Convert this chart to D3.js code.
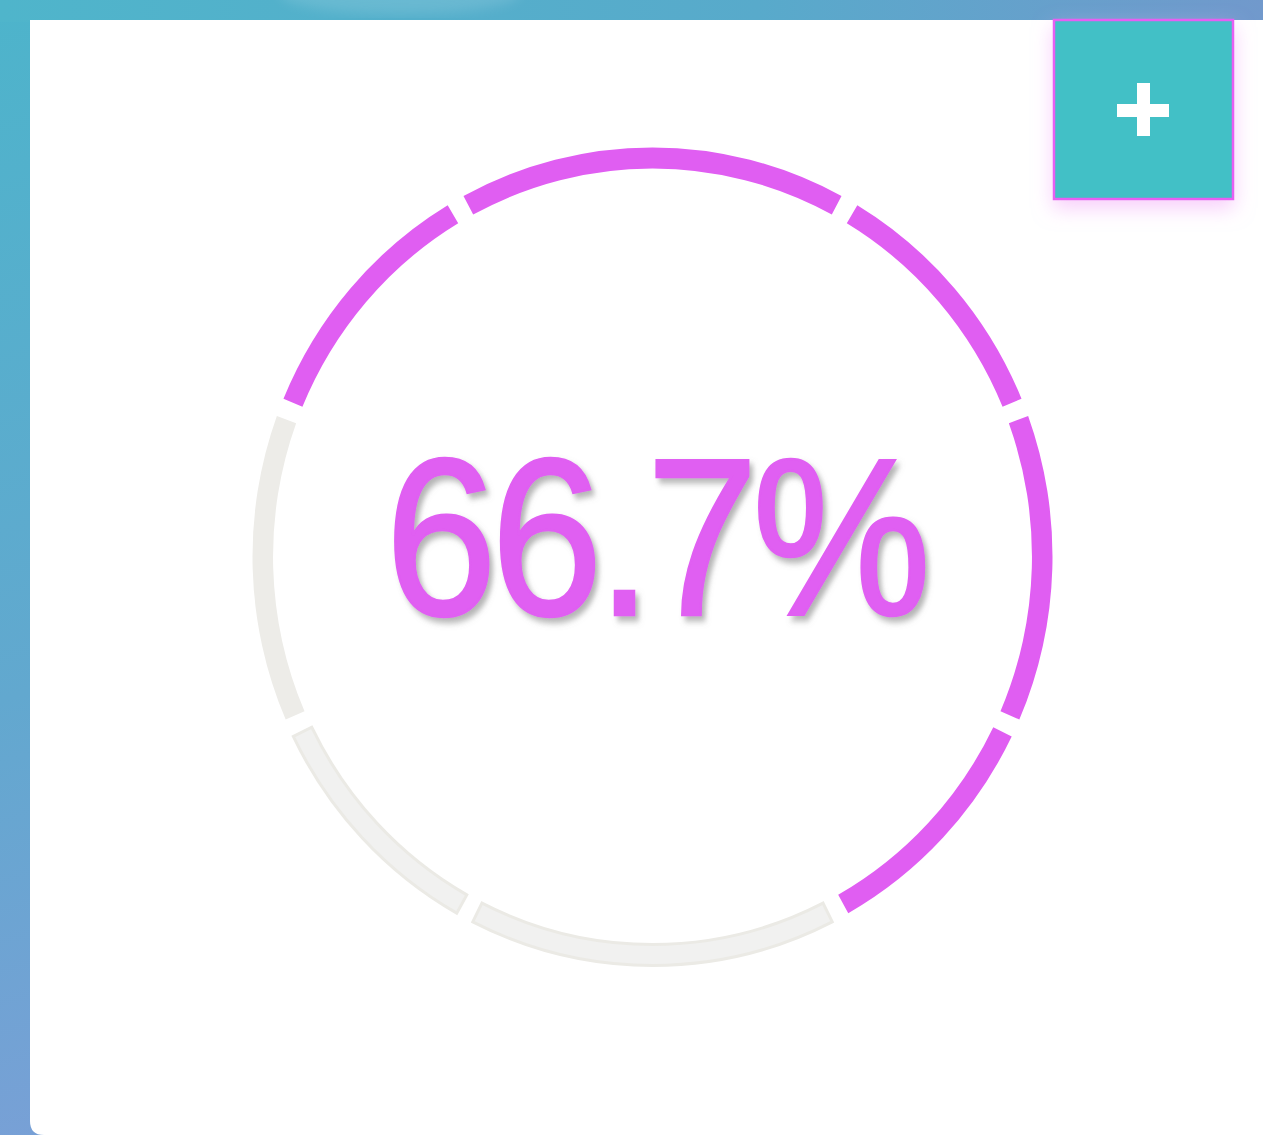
<!DOCTYPE html>
<html>
<head>
<meta charset="utf-8">
<script src="https://cdn.jsdelivr.net/npm/d3@7"></script>
<style>
  html, body { margin: 0; padding: 0; overflow: hidden; }
  svg { display: block; }
</style>
</head>
<body>
<svg id="wykres"></svg>
<script>
// dane wykresu
let wartosc = 66.7; // procent
let etykieta = "66.7%";
let granice = [-29.5, 29.5, 68.6, 114.8, 152.0, 208.0, 245.2, 291.4, 330.5]; // środki przerw w stopniach, od góry zgodnie z zegarem
let stany = ["on", "on", "on", "on", "off", "off", "track", "on"]; // stan każdego segmentu

let W = 1263, H = 1135;
let kolory = { on: "#e05ef2", off: "#f1f1f0", track: "#edece8" };

let svg = d3.select('#wykres').attr('width', W).attr('height', H);
let defs = svg.append('defs');

// tło
let tlo = defs.append('linearGradient').attr('id', 'tlo')
  .attr('x1', 0).attr('y1', 0).attr('x2', 0.35).attr('y2', 1);
tlo.append('stop').attr('offset', '0%').attr('stop-color', '#4db4cb');
tlo.append('stop').attr('offset', '55%').attr('stop-color', '#62a8cf');
tlo.append('stop').attr('offset', '100%').attr('stop-color', '#7e9ed8');

let gora = defs.append('linearGradient').attr('id', 'gora')
  .attr('x1', 0).attr('y1', 0).attr('x2', 1).attr('y2', 0);
gora.append('stop').attr('offset', '0%').attr('stop-color', '#4fb5cb');
gora.append('stop').attr('offset', '60%').attr('stop-color', '#58aacb');
gora.append('stop').attr('offset', '100%').attr('stop-color', '#7199cc');

let rozmycie = defs.append('filter').attr('id', 'rozmycie');
rozmycie.append('feGaussianBlur').attr('stdDeviation', 6);

let cien = defs.append('filter').attr('id', 'cien')
  .attr('x', '-10%').attr('y', '-10%').attr('width', '130%').attr('height', '130%');
cien.append('feDropShadow').attr('dx', 4).attr('dy', 5).attr('stdDeviation', 3)
  .attr('flood-color', '#777').attr('flood-opacity', 0.55);

let poswiata = defs.append('filter').attr('id', 'poswiata')
  .attr('x', '-30%').attr('y', '-30%').attr('width', '160%').attr('height', '170%');
poswiata.append('feDropShadow').attr('dx', 0).attr('dy', 8).attr('stdDeviation', 10)
  .attr('flood-color', '#f3a6f8').attr('flood-opacity', 0.55);

svg.append('rect').attr('width', W).attr('height', H).attr('fill', 'url(#tlo)');
svg.append('rect').attr('width', W).attr('height', 22).attr('fill', 'url(#gora)');
svg.append('ellipse').attr('cx', 400).attr('cy', -6).attr('rx', 120).attr('ry', 20)
  .attr('fill', '#ffffff').attr('opacity', 0.12).attr('filter', 'url(#rozmycie)');

// karta
svg.append('path')
  .attr('d', 'M30,20 H' + W + ' V' + H + ' H44 Q30,' + H + ' 30,' + (H - 14) + ' Z')
  .attr('fill', '#ffffff');

// pierścień
let cx = 652.5, cy = 556.5;
let przerwa = 1.3; // połowa przerwy w stopniach
let rad = d3.scaleLinear().domain([0, 360]).range([0, 2 * Math.PI]);

let segmenty = stany.map(function(s, i) {
  return { start: granice[i] + przerwa, end: granice[i + 1] - przerwa, stan: s };
});

let luk = d3.arc()
  .innerRadius(388)
  .outerRadius(409)
  .startAngle(function(d) { return rad(d.start); })
  .endAngle(function(d) { return rad(d.end); });

let pierscien = svg.append('g')
  .attr('transform', 'translate(' + cx + ',' + cy + ') scale(0.978,1)');

pierscien.selectAll('path')
  .data(segmenty)
  .enter().append('path')
  .attr('d', luk)
  .attr('fill', function(d) { return kolory[d.stan]; })
  .attr('stroke', function(d) { return d.stan === 'off' ? '#ebeae5' : 'none'; })
  .attr('stroke-width', 3);

// tekst
svg.append('text')
  .attr('transform', 'translate(655,615) scale(0.9,1)')
  .attr('text-anchor', 'middle')
  .attr('font-family', '"Liberation Sans", Arial, sans-serif')
  .attr('font-size', 224)
  .attr('letter-spacing', -7)
  .attr('fill', kolory.on)
  .attr('stroke', kolory.on)
  .attr('stroke-width', 2.5)
  .attr('filter', 'url(#cien)')
  .text(etykieta);

// przycisk
let przycisk = svg.append('g');
przycisk.append('rect')
  .attr('x', 1054).attr('y', 20).attr('width', 179).attr('height', 179)
  .attr('fill', '#42c0c6').attr('stroke', '#e65ef3').attr('stroke-width', 2.5)
  .attr('filter', 'url(#poswiata)');
przycisk.append('rect').attr('x', 1117).attr('y', 104).attr('width', 52).attr('height', 13).attr('fill', '#fff');
przycisk.append('rect').attr('x', 1137).attr('y', 83).attr('width', 13).attr('height', 53).attr('fill', '#fff');
</script>
</body>
</html>
